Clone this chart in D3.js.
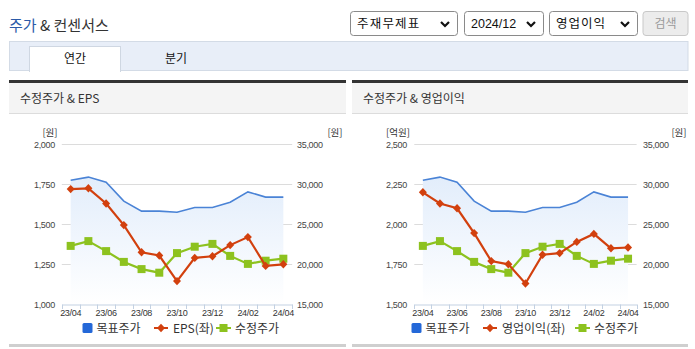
<!DOCTYPE html>
<html><head><meta charset="utf-8">
<script src="https://cdn.jsdelivr.net/npm/d3@7"></script>
<style>body{margin:0;background:#fff;overflow:hidden}</style>
</head><body><svg id="c" width="695" height="349"></svg>
<script>
// ---- data ----
const months = ["23/04","23/05","23/06","23/07","23/08","23/09","23/10","23/11","23/12","24/01","24/02","24/03","24/04"];
const tickLabels = ["23/04","23/06","23/08","23/10","23/12","24/02","24/04"];
const targetPrice = [30500,30900,30250,27900,26650,26650,26500,27100,27100,27750,29050,28400,28400];
const adjPrice = [22300,22900,21650,20300,19400,18950,21400,22200,22550,21050,20050,20450,20700];
const eps = [1720,1725,1630,1495,1325,1305,1145,1290,1300,1370,1420,1240,1250];
const opIncome = [2200,2130,2100,1945,1770,1750,1630,1810,1820,1890,1940,1850,1855];
const epsTicks = [1000,1250,1500,1750,2000];
const opTicks = [1500,1750,2000,2250,2500];
const priceTicks = [15000,20000,25000,30000,35000];

const KR = "'Noto Sans CJK KR','Noto Sans',sans-serif";
const NUM = "'Liberation Sans',Arial,sans-serif";
const svg = d3.select("#c");

// gradient
const defs = svg.append("defs");
const grad = defs.append("linearGradient").attr("id","ag").attr("x1",0).attr("y1",0).attr("x2",0).attr("y2",1);
grad.append("stop").attr("offset","0%").attr("stop-color","#e2edfb");
grad.append("stop").attr("offset","100%").attr("stop-color","#ffffff");

// ---- header ----
const t = svg.append("text").attr("x",9).attr("y",31).attr("font-family",KR).attr("font-size",15);
t.append("tspan").attr("fill","#2b5aa8").text("주가");
t.append("tspan").attr("fill","#333").text(" & 컨센서스");

const selects = [
  {x:350,w:107,label:"주재무제표",ls:1.2},
  {x:464,w:79,label:"2024/12",ls:0},
  {x:549,w:88,label:"영업이익",ls:1}
];
selects.forEach(s=>{
  svg.append("rect").attr("x",s.x+0.5).attr("y",11.5).attr("width",s.w).attr("height",24).attr("rx",3)
    .attr("fill","#fff").attr("stroke","#8a8a8a");
  svg.append("text").attr("x",s.x+7).attr("y",28).attr("font-family",s.label.match(/\d/)?NUM:KR)
    .attr("font-size",12.5).attr("letter-spacing",s.ls).attr("fill","#111").text(s.label);
  const cx = s.x+s.w-12;
  svg.append("path").attr("d",`M${cx-4},${22} L${cx},${26} L${cx+4},${22}`).attr("fill","none")
    .attr("stroke","#111").attr("stroke-width",2.2);
});
svg.append("rect").attr("x",643).attr("y",11.5).attr("width",45).attr("height",24).attr("rx",3)
  .attr("fill","#ececec").attr("stroke","#c8c8c8");
svg.append("text").attr("x",665.5).attr("y",28).attr("text-anchor","middle").attr("font-family",KR)
  .attr("font-size",12).attr("fill","#9a9a9a").text("검색");

// tabs
svg.append("rect").attr("x",9.5).attr("y",41.5).attr("width",678.5).attr("height",29).attr("fill","#e8eef8").attr("stroke","#d3dbe6");
svg.append("rect").attr("x",29.5).attr("y",46.5).attr("width",91).attr("height",25).attr("fill","#fff").attr("stroke","#cfd7e2");
svg.append("rect").attr("x",30).attr("y",69).attr("width",90).attr("height",3).attr("fill","#fff");
svg.append("text").attr("x",75).attr("y",63).attr("text-anchor","middle").attr("font-family",KR).attr("font-size",12).attr("fill","#111").text("연간");
svg.append("text").attr("x",176).attr("y",63).attr("text-anchor","middle").attr("font-family",KR).attr("font-size",12).attr("fill","#111").text("분기");

// ---- charts ----
function panel(px, pw, title){
  svg.append("rect").attr("x",px).attr("y",80).attr("width",pw).attr("height",3).attr("fill","#333");
  svg.append("rect").attr("x",px).attr("y",83).attr("width",pw).attr("height",30).attr("fill","#f4f4f4");
  svg.append("rect").attr("x",px).attr("y",113).attr("width",pw).attr("height",1).attr("fill","#dcdcdc");
  svg.append("text").attr("x",px+11).attr("y",103).attr("font-family",KR).attr("font-size",12).attr("fill","#333").text(title);
  svg.append("rect").attr("x",px).attr("y",344).attr("width",pw).attr("height",3).attr("fill","#cfcfcf");
}

function chart(o){
  const g = svg.append("g");
  const x = d3.scaleBand().domain(months).range([o.x0,o.x1]);
  const cx = d => x(d)+x.bandwidth()/2;
  const yL = d3.scaleLinear().domain([o.lt[0],o.lt[o.lt.length-1]]).range([304.3,144.3]);
  const yR = d3.scaleLinear().domain([15000,35000]).range([304.3,144.3]);

  g.selectAll(".gr").data(o.lt.slice(1)).join("line")
    .attr("x1",o.x0).attr("x2",o.x1).attr("y1",d=>Math.round(yL(d))+0.5).attr("y2",d=>Math.round(yL(d))+0.5)
    .attr("stroke","#dcdcdc").attr("stroke-width",1);

  const area = d3.area().x((d,i)=>cx(months[i])).y0(304).y1(d=>yR(d));
  g.append("path").datum(targetPrice).attr("d",area).attr("fill","url(#ag)");
  const lineR = d3.line().x((d,i)=>cx(months[i])).y(d=>yR(d));
  g.append("path").datum(targetPrice).attr("d",lineR).attr("fill","none").attr("stroke","#4a83d6").attr("stroke-width",1.6);

  g.selectAll(".ll").data(o.lt).join("text").attr("x",o.lx).attr("y",d=>yL(d)+3.5)
    .attr("text-anchor","end").attr("font-family",NUM).attr("font-size",9).attr("letter-spacing",-0.3).attr("fill","#444")
    .text(d=>d3.format(",")(d));
  g.selectAll(".rl").data(priceTicks).join("text").attr("x",o.rx).attr("y",d=>yR(d)+3.5)
    .attr("text-anchor","start").attr("font-family",NUM).attr("font-size",9).attr("letter-spacing",-0.3).attr("fill","#444")
    .text(d=>d3.format(",")(d));
  g.append("text").attr("x",o.ulx).attr("y",136).attr("text-anchor","middle").attr("font-family",KR).attr("font-size",9.5).attr("fill","#333").text(o.ul);
  g.append("text").attr("x",o.urx).attr("y",136).attr("text-anchor","middle").attr("font-family",KR).attr("font-size",9.5).attr("fill","#333").text("[원]");

  const xa = d3.axisBottom(x).tickValues(tickLabels).tickSize(0).tickPadding(5);
  const ax = g.append("g").attr("transform","translate(0,304.5)").call(xa);
  ax.select(".domain").attr("stroke","#c3d1e2");
  ax.selectAll("text").attr("font-family",NUM).attr("font-size",9).attr("letter-spacing",-0.3).attr("fill","#333");
  const bounds = months.map(m=>x(m)).concat([o.x1]);
  g.selectAll(".tk").data(bounds).join("line").attr("x1",d=>Math.round(d)+0.5).attr("x2",d=>Math.round(d)+0.5)
    .attr("y1",304.5).attr("y2",309).attr("stroke","#c3d1e2");

  g.append("path").datum(adjPrice).attr("d",lineR).attr("fill","none").attr("stroke","#8dc21f").attr("stroke-width",2.2);
  g.selectAll(".sq").data(adjPrice).join("rect").attr("x",(d,i)=>cx(months[i])-4).attr("y",d=>yR(d)-4)
    .attr("width",8).attr("height",8).attr("fill","#8dc21f");

  const lineL = d3.line().x((d,i)=>cx(months[i])).y(d=>yL(d));
  g.append("path").datum(o.ls).attr("d",lineL).attr("fill","none").attr("stroke","#d2400e").attr("stroke-width",2.2);
  g.selectAll(".dm").data(o.ls).join("path")
    .attr("transform",(d,i)=>`translate(${cx(months[i])},${yL(d)})`)
    .attr("d","M0,-4.2L4,0L0,4.2L-4,0Z").attr("fill","#d2400e");

  const L = o.leg;
  g.append("rect").attr("x",L.b).attr("y",323).attr("width",10).attr("height",10).attr("rx",1.5).attr("fill","#2468d8");
  g.append("text").attr("x",L.b+14).attr("y",332.5).attr("font-family",KR).attr("font-size",12).attr("fill","#333").text("목표주가");
  g.append("line").attr("x1",L.r).attr("x2",L.r+14).attr("y1",328).attr("y2",328).attr("stroke","#d2400e").attr("stroke-width",2);
  g.append("path").attr("transform",`translate(${L.r+7},328)`).attr("d","M0,-4.2L4,0L0,4.2L-4,0Z").attr("fill","#d2400e");
  g.append("text").attr("x",L.r+19).attr("y",332.5).attr("font-family",KR).attr("font-size",12).attr("fill","#333").text(o.lname);
  g.append("line").attr("x1",L.g).attr("x2",L.g+15).attr("y1",328).attr("y2",328).attr("stroke","#8dc21f").attr("stroke-width",2);
  g.append("rect").attr("x",L.g+3.5).attr("y",324).attr("width",8).attr("height",8).attr("fill","#8dc21f");
  g.append("text").attr("x",L.g+19).attr("y",332.5).attr("font-family",KR).attr("font-size",12).attr("fill","#333").text("수정주가");
}

panel(9,337,"수정주가 & EPS");
panel(352,336,"수정주가 & 영업이익");

chart({x0:61.8,x1:292.2,lt:epsTicks,ls:eps,lx:55,rx:297,ulx:50,urx:335,ul:"[원]",lname:"EPS(좌)",
  leg:{b:82.5,r:154,g:216}});
chart({x0:414.3,x1:636.6,lt:opTicks,ls:opIncome,lx:407,rx:643,ulx:398,urx:679,ul:"[억원]",lname:"영업이익(좌)",
  leg:{b:411.5,r:483,g:575}});
</script></body></html>
